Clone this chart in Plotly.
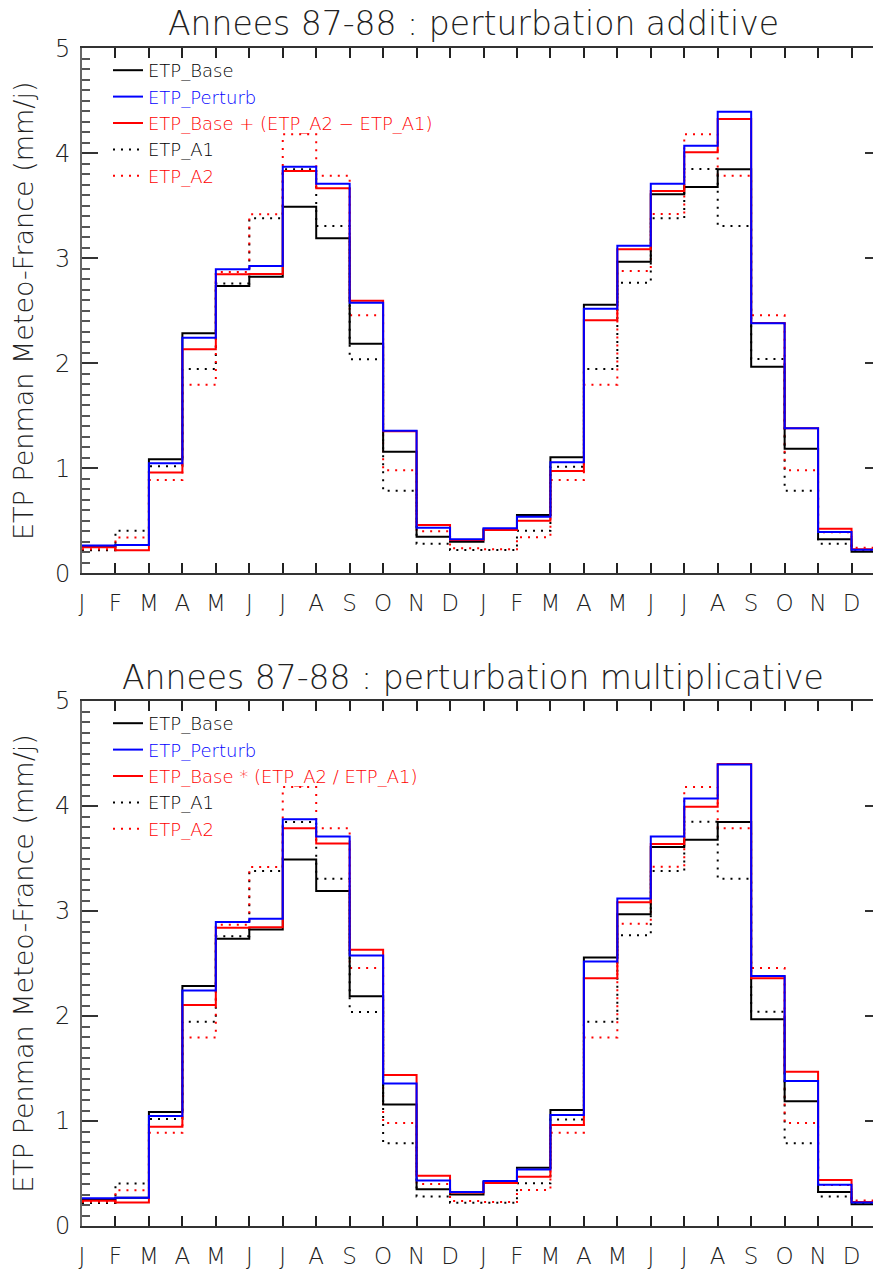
import numpy as np
import plotly.graph_objects as go

months = ["J", "F", "M", "A", "M", "J", "J", "A", "S", "O", "N", "D",
          "J", "F", "M", "A", "M", "J", "J", "A", "S", "O", "N", "D"]

etp_base = [0.25, 0.27, 1.086, 2.286, 2.736, 2.825, 3.491, 3.19, 2.187, 1.158, 0.349, 0.301,
            0.42, 0.555, 1.105, 2.558, 2.968, 3.61, 3.679, 3.848, 1.968, 1.187, 0.324, 0.206]
etp_perturb = [0.265, 0.27, 1.048, 2.244, 2.895, 2.927, 3.873, 3.71, 2.577, 1.358, 0.434, 0.324,
               0.428, 0.539, 1.057, 2.52, 3.119, 3.71, 4.072, 4.396, 2.381, 1.381, 0.393, 0.225]
etp_a1 = [0.22, 0.405, 1.02, 1.946, 2.76, 3.381, 3.848, 3.308, 2.038, 0.787, 0.282, 0.222,
          0.222, 0.406, 1.015, 1.946, 2.768, 3.381, 3.85, 3.308, 2.041, 0.787, 0.282, 0.22]
etp_a2 = [0.23, 0.34, 0.889, 1.796, 2.87, 3.419, 4.181, 3.787, 2.457, 0.981, 0.40, 0.238,
          0.228, 0.343, 0.889, 1.796, 2.879, 3.422, 4.181, 3.787, 2.457, 0.981, 0.39, 0.244]
etp_additive = [0.248, 0.22, 0.96, 2.133, 2.848, 2.85, 3.831, 3.667, 2.596, 1.352, 0.46, 0.317,
                0.412, 0.501, 0.974, 2.41, 3.086, 3.641, 4.01, 4.327, 2.384, 1.381, 0.425, 0.23]
etp_multiplicative = [0.24, 0.225, 0.946, 2.105, 2.841, 2.845, 3.787, 3.644, 2.63, 1.438, 0.479, 0.32,
                      0.41, 0.47, 0.962, 2.359, 3.083, 3.638, 3.994, 4.40, 2.359, 1.47, 0.438, 0.228]

titles = ["Annees 87-88 : perturbation additive", "Annees 87-88 : perturbation multiplicative"]
red_names = ["ETP_Base + (ETP_A2 − ETP_A1)", "ETP_Base * (ETP_A2 / ETP_A1)"]
y_title = "ETP Penman Meteo-France (mm/j)"

FONT = "DejaVu Sans"
FW = 200
OFF = 8                      # page body margin
WIN_W, WIN_H = 881, 1272
W, H = WIN_W - OFF, WIN_H - OFF


def px(xp):
    return (xp - OFF) / W


def py(yp):
    return 1 - (yp - OFF) / H


x_left = 82
x_right_axis = 885
panels = [(573.3, 48.3), (1226.0, 701.0)]   # pixel of value 0, value 5
title_y_px = [24, 677]
legend_top_px = [52, 705]

x_step = np.arange(len(months) + 1)
xrange_max = 24 * (WIN_W - x_left) / (x_right_axis - x_left)

fig = go.Figure()


def stepvals(v):
    return list(v) + [v[-1]]


dot = "2px,6px"
for p, red_vals in enumerate([etp_additive, etp_multiplicative]):
    xa = "x" if p == 0 else "x2"
    ya = "y" if p == 0 else "y2"
    lg = "legend" if p == 0 else "legend2"
    series = [
        ("ETP_A1", etp_a1, "#000000", dot, 4),
        ("ETP_A2", etp_a2, "#ff0000", dot, 5),
        ("ETP_Base", etp_base, "#000000", "solid", 1),
        (red_names[p], red_vals, "#ff0000", "solid", 3),
        ("ETP_Perturb", etp_perturb, "#0000ff", "solid", 2),
    ]
    for name, vals, col, dash, rank in series:
        fig.add_trace(go.Scatter(
            x=x_step, y=stepvals(vals), mode="lines", line_shape="hv",
            line=dict(color=col, width=2, dash=dash),
            name=f"<span style='color:{col}'>{name}</span>",
            legendrank=rank, legendgroup=f"{p}_{rank}",
            xaxis=xa, yaxis=ya, legend=lg, hoverinfo="skip",
        ))

axis_common_x = dict(
    range=[0, xrange_max], tickvals=list(range(len(months))), ticktext=months,
    ticks="inside", ticklen=10, tickwidth=1.5, tickcolor="#222",
    showline=True, linecolor="#333", linewidth=2, mirror="ticks",
    showgrid=False, zeroline=False, automargin=False,
    tickfont=dict(family=FONT, size=23, color="#222", weight=FW), ticklabelstandoff=8,
    domain=[px(x_left), 1.0],
)
axis_common_y = dict(
    range=[0, 5], tickvals=[0, 1, 2, 3, 4, 5],
    ticks="inside", ticklen=16, tickwidth=1.5, tickcolor="#333",
    minor=dict(dtick=0.1, ticks="inside", ticklen=8, tickwidth=1.5, tickcolor="#555"),
    showline=True, linecolor="#666", linewidth=2, mirror="ticks",
    showgrid=False, zeroline=False, automargin=False,
    tickfont=dict(family=FONT, size=24, color="#222", weight=FW), ticklabelstandoff=5,
    title=dict(text=y_title, font=dict(family=FONT, size=27, color="#222", weight=FW), standoff=15),
)

legend_common = dict(xanchor="left", yanchor="top", bgcolor="rgba(0,0,0,0)",
                     font=dict(family=FONT, size=18, weight=FW),
                     traceorder="grouped", tracegroupgap=0, itemwidth=30)

fig.update_layout(
    width=W, height=H,
    margin=dict(l=0, r=0, t=0, b=0),
    paper_bgcolor="white", plot_bgcolor="white",
    showlegend=True,
    xaxis=dict(axis_common_x, anchor="y"),
    xaxis2=dict(axis_common_x, anchor="y2"),
    yaxis=dict(axis_common_y, anchor="x", domain=[py(panels[0][0]), py(panels[0][1])]),
    yaxis2=dict(axis_common_y, anchor="x2", domain=[py(panels[1][0]), py(panels[1][1])]),
    legend=dict(legend_common, x=px(108), y=py(legend_top_px[0])),
    legend2=dict(legend_common, x=px(108), y=py(legend_top_px[1])),
    annotations=[
        dict(text=titles[i], x=px(473), y=py(title_y_px[i]), xref="paper", yref="paper",
             xanchor="center", yanchor="middle", showarrow=False,
             font=dict(family=FONT, size=33, color="#222", weight=FW))
        for i in range(2)
    ],
)

fig.write_html("out.html")
